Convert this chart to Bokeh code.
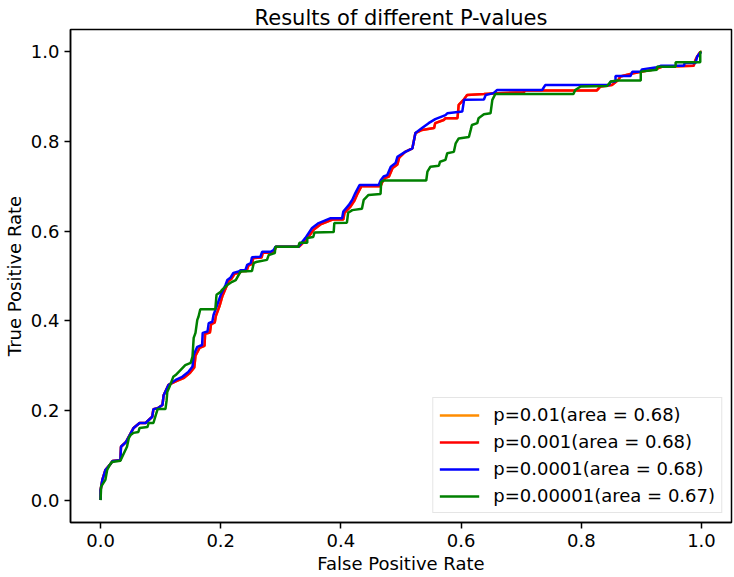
from bokeh.plotting import figure
from bokeh.models import Range1d, FixedTicker, NumeralTickFormatter, Legend, LegendItem
from bokeh.embed import file_html
from bokeh.resources import INLINE

# ---- data ----
labels = ["p=0.01(area = 0.68)", "p=0.001(area = 0.68)",
          "p=0.0001(area = 0.68)", "p=0.00001(area = 0.67)"]
colors = ["darkorange", "red", "blue", "green"]
ticks = [0.0, 0.2, 0.4, 0.6, 0.8, 1.0]

red_fpr = [0, 0, 0.003, 0.008, 0.015, 0.020, 0.033, 0.034, 0.042, 0.053, 0.055, 0.065, 0.075,
           0.086, 0.088, 0.095, 0.103, 0.105, 0.113, 0.127, 0.139, 0.149, 0.156, 0.158, 0.165,
           0.173, 0.174, 0.182, 0.184, 0.190, 0.192, 0.198, 0.203, 0.210, 0.213, 0.218, 0.223,
           0.232, 0.235, 0.243, 0.246, 0.252, 0.254, 0.268, 0.270, 0.284, 0.289, 0.292, 0.330,
           0.343, 0.355, 0.366, 0.386, 0.404, 0.406, 0.416, 0.422, 0.427, 0.434, 0.466, 0.469,
           0.474, 0.480, 0.486, 0.494, 0.497, 0.507, 0.519, 0.524, 0.535, 0.555, 0.557, 0.571,
           0.574, 0.594, 0.596, 0.604, 0.610, 0.638, 0.660, 0.704, 0.707, 0.826, 0.832, 0.851,
           0.862, 0.865, 0.885, 0.901, 0.923, 0.935, 0.987, 0.990, 0.993, 0.998, 1.0]
red_tpr = [0, 0.022, 0.045, 0.067, 0.078, 0.087, 0.089, 0.119, 0.129, 0.156, 0.161, 0.172, 0.172,
           0.186, 0.203, 0.205, 0.212, 0.234, 0.257, 0.266, 0.273, 0.284, 0.296, 0.322, 0.340,
           0.344, 0.371, 0.374, 0.393, 0.396, 0.411, 0.433, 0.456, 0.478, 0.489, 0.494, 0.505,
           0.508, 0.511, 0.511, 0.523, 0.527, 0.540, 0.541, 0.552, 0.552, 0.556, 0.565, 0.565,
           0.582, 0.604, 0.615, 0.626, 0.626, 0.641, 0.655, 0.667, 0.682, 0.700, 0.700, 0.710,
           0.719, 0.722, 0.741, 0.749, 0.764, 0.777, 0.785, 0.819, 0.826, 0.830, 0.841, 0.848,
           0.852, 0.852, 0.882, 0.893, 0.904, 0.906, 0.908, 0.910, 0.914, 0.914, 0.923, 0.926,
           0.938, 0.945, 0.952, 0.956, 0.961, 0.967, 0.969, 0.982, 0.990, 1.0, 1.0]

orange_fpr = list(red_fpr)
orange_tpr = list(red_tpr)

blue_fpr = [0, 0, 0.003, 0.008, 0.015, 0.020, 0.033, 0.034, 0.042, 0.053, 0.055, 0.065, 0.075,
            0.086, 0.088, 0.095, 0.103, 0.105, 0.113, 0.125, 0.136, 0.146, 0.153, 0.155, 0.161,
            0.169, 0.170, 0.178, 0.180, 0.186, 0.188, 0.194, 0.200, 0.208, 0.211, 0.216, 0.221,
            0.230, 0.233, 0.241, 0.244, 0.250, 0.252, 0.266, 0.269, 0.283, 0.288, 0.291, 0.329,
            0.341, 0.352, 0.363, 0.383, 0.402, 0.404, 0.413, 0.419, 0.424, 0.431, 0.463, 0.466,
            0.471, 0.477, 0.483, 0.491, 0.494, 0.507, 0.519, 0.524, 0.535, 0.546, 0.557, 0.574,
            0.577, 0.602, 0.605, 0.638, 0.641, 0.654, 0.660, 0.735, 0.740, 0.846, 0.849, 0.857,
            0.857, 0.882, 0.885, 0.899, 0.901, 0.926, 0.932, 0.971, 0.972, 0.990, 0.993, 0.997, 1.0]
blue_tpr = [0, 0.022, 0.045, 0.067, 0.078, 0.087, 0.089, 0.119, 0.129, 0.156, 0.161, 0.172, 0.172,
            0.186, 0.203, 0.205, 0.212, 0.234, 0.257, 0.268, 0.275, 0.286, 0.298, 0.324, 0.342,
            0.346, 0.373, 0.376, 0.395, 0.398, 0.413, 0.435, 0.458, 0.480, 0.491, 0.496, 0.507,
            0.510, 0.513, 0.513, 0.525, 0.529, 0.542, 0.543, 0.554, 0.554, 0.558, 0.565, 0.565,
            0.585, 0.607, 0.618, 0.629, 0.629, 0.644, 0.658, 0.670, 0.685, 0.703, 0.703, 0.713,
            0.722, 0.725, 0.744, 0.752, 0.766, 0.777, 0.785, 0.819, 0.830, 0.841, 0.850, 0.859,
            0.863, 0.867, 0.893, 0.894, 0.904, 0.908, 0.915, 0.915, 0.926, 0.926, 0.934, 0.934,
            0.946, 0.946, 0.956, 0.956, 0.961, 0.966, 0.969, 0.969, 0.975, 0.975, 0.990, 0.997, 1.0]

green_fpr = [0, 0.001, 0.008, 0.011, 0.015, 0.019, 0.033, 0.044, 0.047, 0.050, 0.055, 0.063,
             0.065, 0.078, 0.080, 0.088, 0.092, 0.095, 0.108, 0.110, 0.111, 0.116, 0.121, 0.125,
             0.133, 0.141, 0.150, 0.153, 0.155, 0.158, 0.161, 0.163, 0.166, 0.191, 0.193, 0.200,
             0.202, 0.208, 0.211, 0.219, 0.225, 0.233, 0.252, 0.255, 0.261, 0.277, 0.280, 0.290,
             0.291, 0.329, 0.331, 0.344, 0.344, 0.354, 0.356, 0.388, 0.389, 0.410, 0.412, 0.419,
             0.435, 0.438, 0.446, 0.466, 0.467, 0.471, 0.542, 0.544, 0.549, 0.563, 0.565, 0.574,
             0.577, 0.588, 0.591, 0.596, 0.613, 0.616, 0.618, 0.627, 0.629, 0.638, 0.649, 0.652,
             0.657, 0.787, 0.790, 0.799, 0.843, 0.849, 0.860, 0.899, 0.899, 0.926, 0.926, 0.957,
             0.957, 0.998, 0.998, 1.0]
green_tpr = [0, 0.030, 0.045, 0.067, 0.078, 0.085, 0.088, 0.119, 0.138, 0.145, 0.150, 0.152,
             0.161, 0.163, 0.172, 0.172, 0.190, 0.203, 0.203, 0.223, 0.241, 0.257, 0.275, 0.279,
             0.290, 0.301, 0.306, 0.320, 0.362, 0.373, 0.402, 0.409, 0.426, 0.426, 0.458, 0.465,
             0.469, 0.476, 0.480, 0.487, 0.491, 0.510, 0.511, 0.529, 0.532, 0.536, 0.547, 0.551,
             0.565, 0.565, 0.574, 0.574, 0.585, 0.587, 0.597, 0.598, 0.618, 0.619, 0.641, 0.647,
             0.650, 0.670, 0.681, 0.683, 0.710, 0.713, 0.713, 0.733, 0.744, 0.746, 0.755, 0.759,
             0.774, 0.777, 0.796, 0.807, 0.810, 0.826, 0.837, 0.841, 0.852, 0.861, 0.863, 0.893,
             0.906, 0.906, 0.915, 0.923, 0.924, 0.934, 0.936, 0.936, 0.956, 0.960, 0.967, 0.967,
             0.977, 0.977, 1.0, 1.0]

FONT = "DejaVu Sans"

p = figure(width=734, height=577, x_range=Range1d(-0.05, 1.05), y_range=Range1d(-0.05, 1.05),
           output_backend="svg", toolbar_location=None,
           min_border_left=70, min_border_right=3, min_border_top=29, min_border_bottom=55,
           title="Results of different P-values")
p.title.align = "center"
p.title.text_font = FONT
p.title.text_font_size = "21px"
p.title.text_font_style = "normal"
p.title.text_color = "black"
p.title.standoff = 0
p.title.offset = 0
p.grid.visible = False
p.outline_line_color = "black"
p.outline_line_width = 1.5
p.outline_line_alpha = 1.0
p.background_fill_color = "white"
p.border_fill_color = "white"

for ax in (p.xaxis[0], p.yaxis[0]):
    ax.ticker = FixedTicker(ticks=ticks)
    ax.formatter = NumeralTickFormatter(format="0.0")
    ax.major_tick_in = 0
    ax.major_tick_out = 6
    ax.minor_tick_line_color = None
    ax.major_tick_line_width = 1.5
    ax.axis_line_width = 1.5
    ax.major_label_text_font = FONT
    ax.major_label_text_font_size = "18px"
    ax.major_label_text_color = "black"
    ax.axis_label_text_font = FONT
    ax.axis_label_text_font_size = "18px"
    ax.axis_label_text_font_style = "normal"
    ax.axis_label_text_color = "black"
    ax.major_label_standoff = 5
    ax.axis_label_standoff = 3
p.xaxis.axis_label = "False Positive Rate"
p.yaxis.axis_label = "True Positive Rate"

series = [(orange_fpr, orange_tpr), (red_fpr, red_tpr), (blue_fpr, blue_tpr), (green_fpr, green_tpr)]
items = []
for (xs, ys), c, lab in zip(series, colors, labels):
    r = p.line(xs, ys, line_color=c, line_width=2.5)
    items.append(LegendItem(label=lab, renderers=[r]))

legend = Legend(items=items, location="bottom_right")
legend.label_text_font = FONT
legend.label_text_font_size = "18px"
legend.label_text_color = "black"
legend.glyph_width = 40
legend.glyph_height = 20
legend.label_height = 20
legend.label_standoff = 14
legend.padding = 6
legend.spacing = 6
legend.margin = 9
legend.border_line_color = "#cccccc"
legend.border_line_width = 1.5
legend.background_fill_alpha = 0.8
p.add_layout(legend, "center")

open("out.html", "w").write(file_html(p, INLINE))
